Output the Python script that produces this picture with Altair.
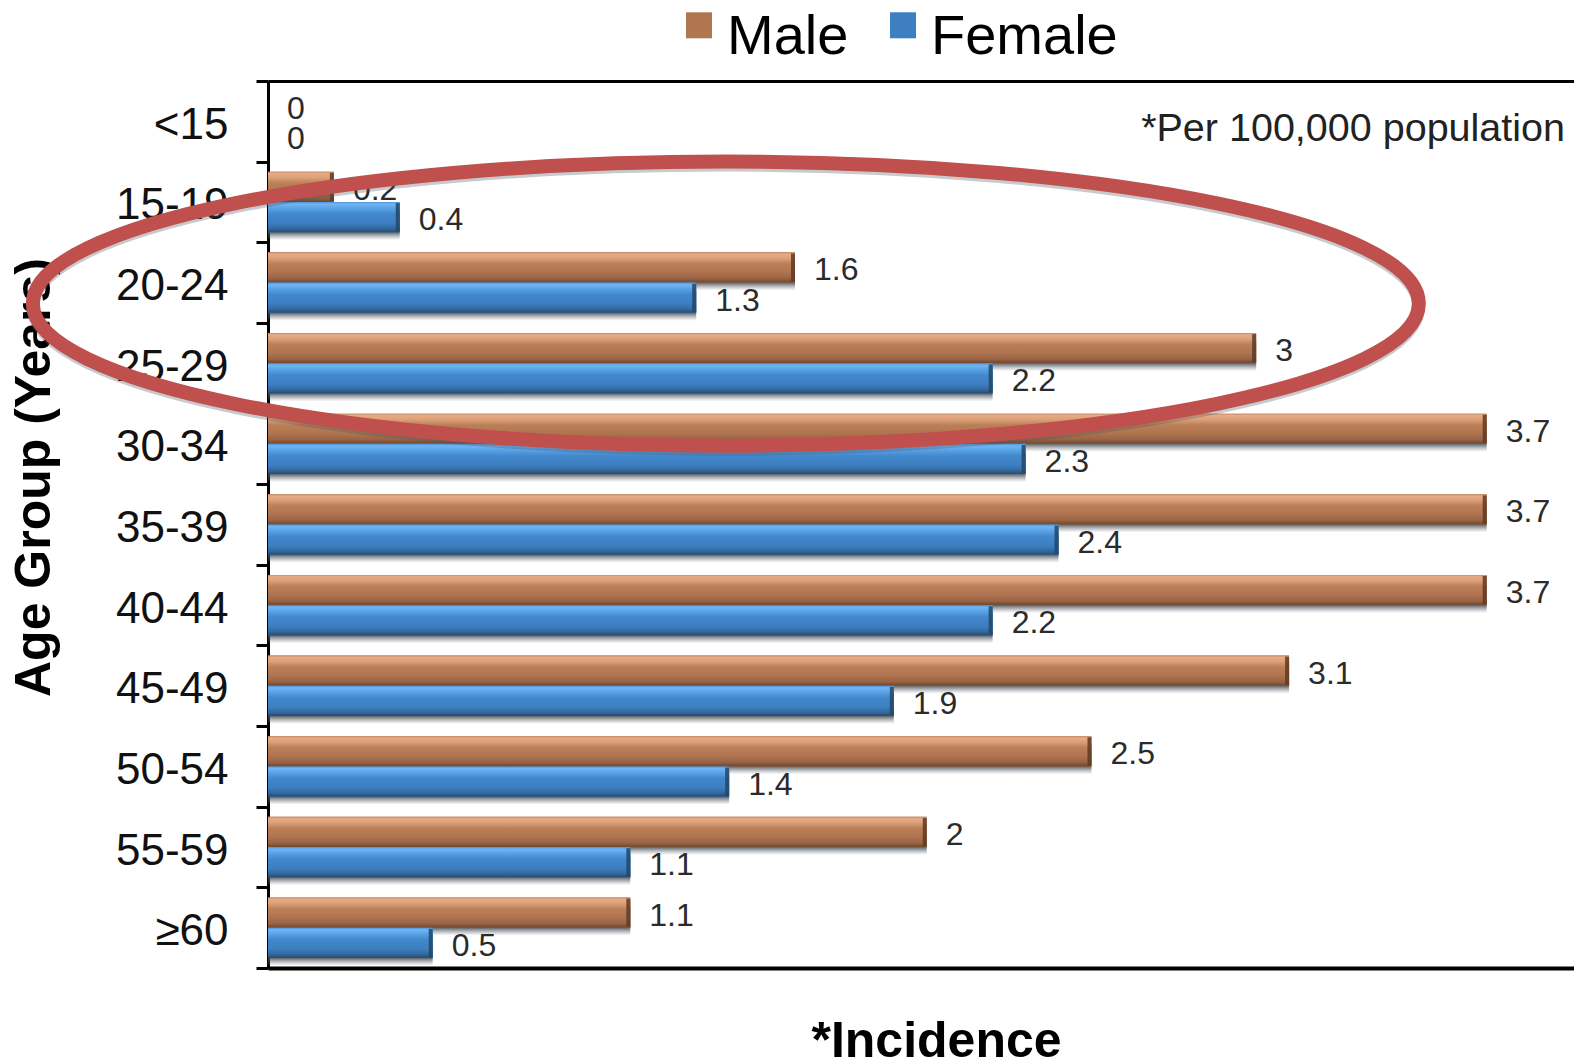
import altair as alt
import pandas as pd

ages = ["<15", "15-19", "20-24", "25-29", "30-34", "35-39", "40-44",
        "45-49", "50-54", "55-59", "≥60"]
male = [0, 0.2, 1.6, 3, 3.7, 3.7, 3.7, 3.1, 2.5, 2, 1.1]
female = [0, 0.4, 1.3, 2.2, 2.3, 2.4, 2.2, 1.9, 1.4, 1.1, 0.5]
series = ["Male", "Female"]
series_colors = ["#b07650", "#3d7fc0"]
cap_colors = ["#5e3a24", "#234669"]

rows = []
for a, m, f in zip(ages, male, female):
    rows.append({"age": a, "sex": "Male", "value": m})
    rows.append({"age": a, "sex": "Female", "value": f})
df = pd.DataFrame(rows)

W, H = 1306, 887
XMAX = 3.965
FONT = "Liberation Sans"
step = H / len(ages)

xscale = alt.Scale(domain=[0, XMAX], nice=False, zero=True)
yscale = alt.Scale(domain=ages, paddingInner=0, paddingOuter=0)


def yoff(rng=None):
    kw = dict(type="band", domain=series, paddingInner=0, paddingOuter=1 / 3)
    if rng is not None:
        kw["range"] = rng
    return alt.YOffset("sex:N", scale=alt.Scale(**kw))


def grad(stops):
    return {"gradient": "linear", "x1": 0, "x2": 0, "y1": 0, "y2": 1,
            "stops": [{"offset": o, "color": c} for o, c in stops]}


male_grad = grad([(0, "#c48a66"), (0.06, "#e8ab85"), (0.2, "#dca079"),
                  (0.38, "#bb7f58"), (0.65, "#b07450"), (0.86, "#9a6444"),
                  (1, "#6e4730")])
female_grad = grad([(0, "#4f94d8"), (0.07, "#70b6f3"), (0.2, "#5aa3e6"),
                    (0.4, "#4288cc"), (0.7, "#3d7fc0"), (0.88, "#33689e"),
                    (1, "#284a6e")])
shadow_grad = grad([(0, "#3a3f44"), (0.72, "#3e4349"),
                    (1, "rgba(120,130,140,0)")])

y_noaxis = alt.Y("age:N", scale=yscale, axis=None)
x_noaxis = alt.X("value:Q", scale=xscale, axis=None)

base = alt.Chart(df)

shadow = base.mark_bar(fill=shadow_grad, opacity=0.9).encode(
    x=alt.X("value:Q", scale=xscale,
            axis=alt.Axis(orient="top", labels=False, ticks=False, grid=False,
                          domainColor="black", domainWidth=3, title=None)),
    y=y_noaxis,
    yOffset=yoff([8, 8 + step]),
)

legend_square = "M -1 -1.9 L 1 -1.9 L 1 0.1 L -1 0.1 Z"

flat = base.mark_bar().encode(
    x=alt.X("value:Q", scale=xscale,
            axis=alt.Axis(orient="bottom", labels=False, ticks=False, grid=False,
                          domainColor="black", domainWidth=4,
                          title="*Incidence", titleFontSize=50,
                          titleFontWeight="bold", titleColor="black",
                          titleFont=FONT, titleX=668, titleY=88,
                          titleAlign="center", titleBaseline="alphabetic")),
    y=alt.Y("age:N", scale=yscale,
            axis=alt.Axis(title="Age Group (Years)", titleFontSize=50,
                          titleFontWeight="bold", titleColor="black",
                          titleFont=FONT, titleAngle=270, titleX=-219,
                          titleY=396, titleAlign="center",
                          titleBaseline="alphabetic",
                          labelFontSize=44, labelFont=FONT,
                          labelColor="#111111", labelPadding=28,
                          labelOffset=4, tickBand="extent", tickSize=12,
                          tickWidth=3, tickColor="black",
                          domainColor="black", domainWidth=3, grid=False)),
    yOffset=yoff(),
    color=alt.Color("sex:N", scale=alt.Scale(domain=series, range=series_colors),
                    legend=alt.Legend(orient="none", legendX=403, legendY=-72,
                                      direction="horizontal", title=None,
                                      symbolType=legend_square, symbolSize=676,
                                      symbolStrokeWidth=0, labelFontSize=56,
                                      labelFont=FONT, labelColor="black",
                                      labelOffset=0, columnPadding=26,
                                      labelLimit=500, labelBaseline="middle")),
)

male_bars = base.transform_filter(alt.datum.sex == "Male").mark_bar(
    fill=male_grad).encode(x=x_noaxis, y=y_noaxis, yOffset=yoff())
female_bars = base.transform_filter(alt.datum.sex == "Female").mark_bar(
    fill=female_grad).encode(x=x_noaxis, y=y_noaxis, yOffset=yoff())

caps = base.transform_filter(alt.datum.value > 0).mark_tick(
    size=28, thickness=4, xOffset=-2, opacity=0.85).encode(
    x=x_noaxis, y=y_noaxis, yOffset=yoff(),
    color=alt.Color("sex:N", scale=alt.Scale(domain=series, range=cap_colors),
                    legend=None),
)

labels = base.mark_text(align="left", baseline="middle", dx=19, dy=3,
                        fontSize=32, font=FONT, color="#2b2b2b").encode(
    x=x_noaxis, y=y_noaxis, yOffset=yoff(),
    text=alt.Text("value:Q", format=".1~f"),
)

note_df = pd.DataFrame({"note": ["*Per 100,000 population"]})
note = alt.Chart(note_df).mark_text(align="right", baseline="middle", dx=-9,
                                    dy=8, fontSize=39.5, font=FONT,
                                    color="#222222").encode(
    x=alt.XDatum(XMAX, scale=xscale, axis=None),
    y=alt.YDatum("<15", scale=yscale, axis=None),
    text="note:N",
)

ell_path = "M -1 0 A 1 0.205 0 1 1 1 0 A 1 0.205 0 1 1 -1 0 Z"
ell_df = pd.DataFrame({"cx": [1.39], "cy": ["20-24"]})
ell_shadow = alt.Chart(ell_df).mark_point(
    shape=ell_path, size=1386 ** 2, filled=False, color="#4a5560",
    strokeWidth=12, opacity=0.3, yOffset=25).encode(
    x=alt.X("cx:Q", scale=xscale, axis=None),
    y=alt.Y("cy:N", scale=yscale, axis=None),
)
ellipse = alt.Chart(ell_df).mark_point(
    shape=ell_path, size=1386 ** 2, filled=False, color="#c0504d",
    strokeWidth=14, opacity=1, yOffset=21).encode(
    x=alt.X("cx:Q", scale=xscale, axis=None),
    y=alt.Y("cy:N", scale=yscale, axis=None),
)

chart = alt.layer(
    shadow, flat, male_bars, female_bars, caps, labels, note, ell_shadow,
    ellipse
).resolve_axis(x="independent", y="independent").resolve_scale(
    yOffset="independent", color="independent"
).properties(
    width=W, height=H,
    padding={"left": 260, "top": 73, "right": 0, "bottom": 104},
    autosize=alt.AutoSizeParams(type="none"),
).configure_view(fill="#dce6f2", stroke="transparent").configure(font=FONT)

chart.save("out.html", embed_options={"renderer": "svg", "actions": False})
